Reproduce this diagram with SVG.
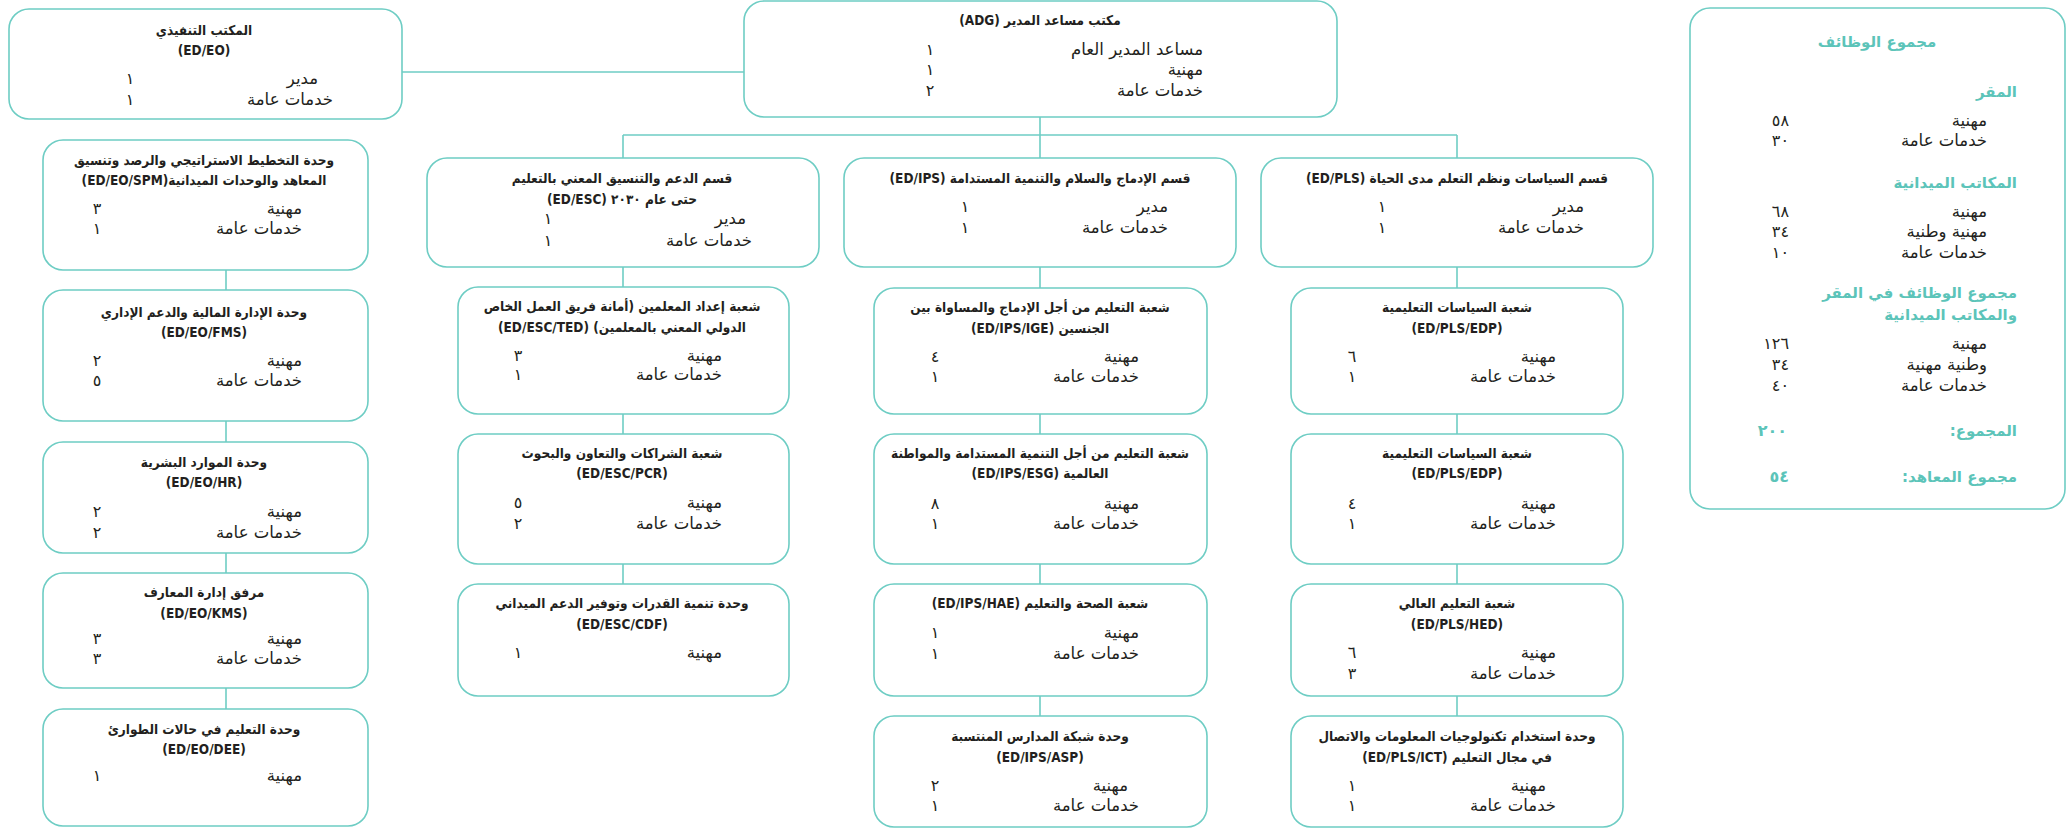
<svg xmlns="http://www.w3.org/2000/svg" width="2069" height="828" viewBox="0 0 2069 828">
<style>
.box{fill:#fff;stroke:#6ecdc4;stroke-width:1.6}
.c line{stroke:#6ecdc4;stroke-width:1.6}
text{font-family:"DejaVu Sans",sans-serif;fill:#231f20}
.t{font-family:"DejaVu Sans Condensed","DejaVu Sans",sans-serif;font-size:13.5px;font-weight:bold;text-anchor:middle;direction:rtl}
.l{font-size:16.5px;direction:rtl;text-anchor:start}
.n{font-size:16px;text-anchor:middle}
.h{font-size:15px;font-weight:bold;fill:#5cc4b9;direction:rtl;text-anchor:start}
.hc{font-size:15px;font-weight:bold;fill:#5cc4b9;text-anchor:middle;direction:rtl}
.nr{font-size:16px;text-anchor:end}
.tn{font-size:16px;font-weight:bold;fill:#5cc4b9;text-anchor:end}
</style>
<rect width="2069" height="828" fill="#fff"/>
<g class="c" id="connectors">
<line x1="402" y1="72" x2="744" y2="72"/>
<line x1="623" y1="135" x2="1457" y2="135"/>
<line x1="1040" y1="117" x2="1040" y2="158"/>
<line x1="623" y1="135" x2="623" y2="158"/>
<line x1="1457" y1="135" x2="1457" y2="158"/>
<line x1="226" y1="270" x2="226" y2="290"/>
<line x1="226" y1="421" x2="226" y2="442"/>
<line x1="226" y1="553" x2="226" y2="573"/>
<line x1="226" y1="688" x2="226" y2="709"/>
<line x1="623" y1="267" x2="623" y2="287"/>
<line x1="623" y1="414" x2="623" y2="434"/>
<line x1="623" y1="564" x2="623" y2="584"/>
<line x1="1040" y1="267" x2="1040" y2="288"/>
<line x1="1040" y1="414" x2="1040" y2="434"/>
<line x1="1040" y1="564" x2="1040" y2="584"/>
<line x1="1040" y1="696" x2="1040" y2="716"/>
<line x1="1457" y1="267" x2="1457" y2="288"/>
<line x1="1457" y1="414" x2="1457" y2="434"/>
<line x1="1457" y1="564" x2="1457" y2="584"/>
<line x1="1457" y1="696" x2="1457" y2="716"/>
</g>

<g id="ed-eo">
<rect class="box" x="9" y="9" width="393" height="110" rx="20"/>
<text class="t" x="204" y="35">المكتب التنفيذي</text>
<text class="t" x="204" y="55">(ED/EO)</text>
<text class="l" x="318" y="84">مدير</text><text class="n" x="130" y="84">١</text>
<text class="l" x="333" y="105">خدمات عامة</text><text class="n" x="130" y="105">١</text>
</g>

<g id="ed-eo-spm">
<rect class="box" x="43" y="140" width="325" height="130" rx="20"/>
<text class="t" x="204" y="165">وحدة التخطيط الاستراتيجي والرصد وتنسيق</text>
<text class="t" x="204" y="185">المعاهد والوحدات الميدانية(ED/EO/SPM)</text>
<text class="l" x="302" y="214">مهنية</text><text class="n" x="97" y="214">٣</text>
<text class="l" x="302" y="234">خدمات عامة</text><text class="n" x="97" y="234">١</text>
</g>

<g id="ed-eo-fms">
<rect class="box" x="43" y="290" width="325" height="131" rx="20"/>
<text class="t" x="204" y="317">وحدة الإدارة المالية والدعم الإداري</text>
<text class="t" x="204" y="337">(ED/EO/FMS)</text>
<text class="l" x="302" y="366">مهنية</text><text class="n" x="97" y="366">٢</text>
<text class="l" x="302" y="386">خدمات عامة</text><text class="n" x="97" y="386">٥</text>
</g>

<g id="ed-eo-hr">
<rect class="box" x="43" y="442" width="325" height="111" rx="20"/>
<text class="t" x="204" y="467">وحدة الموارد البشرية</text>
<text class="t" x="204" y="487">(ED/EO/HR)</text>
<text class="l" x="302" y="517">مهنية</text><text class="n" x="97" y="517">٢</text>
<text class="l" x="302" y="538">خدمات عامة</text><text class="n" x="97" y="538">٢</text>
</g>

<g id="ed-eo-kms">
<rect class="box" x="43" y="573" width="325" height="115" rx="20"/>
<text class="t" x="204" y="597">مرفق إدارة المعارف</text>
<text class="t" x="204" y="618">(ED/EO/KMS)</text>
<text class="l" x="302" y="644">مهنية</text><text class="n" x="97" y="644">٣</text>
<text class="l" x="302" y="664">خدمات عامة</text><text class="n" x="97" y="664">٣</text>
</g>

<g id="ed-eo-dee">
<rect class="box" x="43" y="709" width="325" height="117" rx="20"/>
<text class="t" x="204" y="734">وحدة التعليم في حالات الطوارئ</text>
<text class="t" x="204" y="754">(ED/EO/DEE)</text>
<text class="l" x="302" y="781">مهنية</text><text class="n" x="97" y="781">١</text>
</g>

<g id="adg">
<rect class="box" x="744" y="1" width="593" height="116" rx="20"/>
<text class="t" x="1040" y="25">مكتب مساعد المدير (ADG)</text>
<text class="l" x="1203" y="55">مساعد المدير العام</text><text class="n" x="930" y="55">١</text>
<text class="l" x="1203" y="75">مهنية</text><text class="n" x="930" y="75">١</text>
<text class="l" x="1203" y="96">خدمات عامة</text><text class="n" x="930" y="96">٢</text>
</g>

<g id="ed-esc">
<rect class="box" x="427" y="158" width="392" height="109" rx="20"/>
<text class="t" x="622" y="183">قسم الدعم والتنسيق المعني بالتعليم</text>
<text class="t" x="622" y="204">حتى عام ٢٠٣٠  (ED/ESC)</text>
<text class="l" x="746" y="224">مدير</text><text class="n" x="548" y="224">١</text>
<text class="l" x="752" y="246">خدمات عامة</text><text class="n" x="548" y="246">١</text>
</g>

<g id="ed-esc-ted">
<rect class="box" x="458" y="287" width="331" height="127" rx="20"/>
<text class="t" x="622" y="311">شعبة إعداد المعلمين (أمانة فريق العمل الخاص</text>
<text class="t" x="622" y="332">الدولي المعني بالمعلمين) (ED/ESC/TED)</text>
<text class="l" x="722" y="361">مهنية</text><text class="n" x="518" y="361">٣</text>
<text class="l" x="722" y="380">خدمات عامة</text><text class="n" x="518" y="380">١</text>
</g>

<g id="ed-esc-pcr">
<rect class="box" x="458" y="434" width="331" height="130" rx="20"/>
<text class="t" x="622" y="458">شعبة الشراكات والتعاون والبحوث</text>
<text class="t" x="622" y="478">(ED/ESC/PCR)</text>
<text class="l" x="722" y="508">مهنية</text><text class="n" x="518" y="508">٥</text>
<text class="l" x="722" y="529">خدمات عامة</text><text class="n" x="518" y="529">٢</text>
</g>

<g id="ed-esc-cdf">
<rect class="box" x="458" y="584" width="331" height="112" rx="20"/>
<text class="t" x="622" y="608">وحدة تنمية القدرات وتوفير الدعم الميداني</text>
<text class="t" x="622" y="629">(ED/ESC/CDF)</text>
<text class="l" x="722" y="658">مهنية</text><text class="n" x="518" y="658">١</text>
</g>

<g id="ed-ips">
<rect class="box" x="844" y="158" width="392" height="109" rx="20"/>
<text class="t" x="1040" y="183">قسم الإدماج والسلام والتنمية المستدامة (ED/IPS)</text>
<text class="l" x="1168" y="212">مدير</text><text class="n" x="965" y="212">١</text>
<text class="l" x="1168" y="233">خدمات عامة</text><text class="n" x="965" y="233">١</text>
</g>

<g id="ed-ips-ige">
<rect class="box" x="874" y="288" width="333" height="126" rx="20"/>
<text class="t" x="1040" y="312">شعبة التعليم من أجل الإدماج والمساواة بين</text>
<text class="t" x="1040" y="333">الجنسين  (ED/IPS/IGE)</text>
<text class="l" x="1139" y="362">مهنية</text><text class="n" x="935" y="362">٤</text>
<text class="l" x="1139" y="382">خدمات عامة</text><text class="n" x="935" y="382">١</text>
</g>

<g id="ed-ips-esg">
<rect class="box" x="874" y="434" width="333" height="130" rx="20"/>
<text class="t" x="1040" y="458">شعبة التعليم من أجل التنمية المستدامة والمواطنة</text>
<text class="t" x="1040" y="478">العالمية (ED/IPS/ESG)</text>
<text class="l" x="1139" y="509">مهنية</text><text class="n" x="935" y="509">٨</text>
<text class="l" x="1139" y="529">خدمات عامة</text><text class="n" x="935" y="529">١</text>
</g>

<g id="ed-ips-hae">
<rect class="box" x="874" y="584" width="333" height="112" rx="20"/>
<text class="t" x="1040" y="608">شعبة الصحة والتعليم (ED/IPS/HAE)</text>
<text class="l" x="1139" y="638">مهنية</text><text class="n" x="935" y="638">١</text>
<text class="l" x="1139" y="659">خدمات عامة</text><text class="n" x="935" y="659">١</text>
</g>

<g id="ed-ips-asp">
<rect class="box" x="874" y="716" width="333" height="111" rx="20"/>
<text class="t" x="1040" y="741">وحدة شبكة المدارس المنتسبة</text>
<text class="t" x="1040" y="762">(ED/IPS/ASP)</text>
<text class="l" x="1128" y="791">مهنية</text><text class="n" x="935" y="791">٢</text>
<text class="l" x="1139" y="811">خدمات عامة</text><text class="n" x="935" y="811">١</text>
</g>

<g id="ed-pls">
<rect class="box" x="1261" y="158" width="392" height="109" rx="20"/>
<text class="t" x="1457" y="183">قسم السياسات ونظم التعلم مدى الحياة  (ED/PLS)</text>
<text class="l" x="1584" y="212">مدير</text><text class="n" x="1382" y="212">١</text>
<text class="l" x="1584" y="233">خدمات عامة</text><text class="n" x="1382" y="233">١</text>
</g>

<g id="ed-pls-edp-1">
<rect class="box" x="1291" y="288" width="332" height="126" rx="20"/>
<text class="t" x="1457" y="312">شعبة السياسات التعليمية</text>
<text class="t" x="1457" y="333">(ED/PLS/EDP)</text>
<text class="l" x="1556" y="362">مهنية</text><text class="n" x="1352" y="362">٦</text>
<text class="l" x="1556" y="382">خدمات عامة</text><text class="n" x="1352" y="382">١</text>
</g>

<g id="ed-pls-edp-2">
<rect class="box" x="1291" y="434" width="332" height="130" rx="20"/>
<text class="t" x="1457" y="458">شعبة السياسات التعليمية</text>
<text class="t" x="1457" y="478">(ED/PLS/EDP)</text>
<text class="l" x="1556" y="509">مهنية</text><text class="n" x="1352" y="509">٤</text>
<text class="l" x="1556" y="529">خدمات عامة</text><text class="n" x="1352" y="529">١</text>
</g>

<g id="ed-pls-hed">
<rect class="box" x="1291" y="584" width="332" height="112" rx="20"/>
<text class="t" x="1457" y="608">شعبة التعليم العالي</text>
<text class="t" x="1457" y="629">(ED/PLS/HED)</text>
<text class="l" x="1556" y="658">مهنية</text><text class="n" x="1352" y="658">٦</text>
<text class="l" x="1556" y="679">خدمات عامة</text><text class="n" x="1352" y="679">٣</text>
</g>

<g id="ed-pls-ict">
<rect class="box" x="1291" y="716" width="332" height="111" rx="20"/>
<text class="t" x="1457" y="741">وحدة استخدام تكنولوجيات المعلومات والاتصال</text>
<text class="t" x="1457" y="762">في مجال التعليم  (ED/PLS/ICT)</text>
<text class="l" x="1546" y="791">مهنية</text><text class="n" x="1352" y="791">١</text>
<text class="l" x="1556" y="811">خدمات عامة</text><text class="n" x="1352" y="811">١</text>
</g>

<g id="summary">
<rect class="box" x="1690" y="8" width="375" height="501" rx="20"/>
<text class="hc" x="1877" y="47">مجموع الوظائف</text>
<text class="h" x="2017" y="97">المقر</text>
<text class="l" x="1987" y="126">مهنية</text><text class="nr" x="1789" y="126">٥٨</text>
<text class="l" x="1987" y="146">خدمات عامة</text><text class="nr" x="1789" y="146">٣٠</text>
<text class="h" x="2017" y="188">المكاتب الميدانية</text>
<text class="l" x="1987" y="217">مهنية</text><text class="nr" x="1789" y="217">٦٨</text>
<text class="l" x="1987" y="237">مهنية وطنية</text><text class="nr" x="1789" y="237">٣٤</text>
<text class="l" x="1987" y="258">خدمات عامة</text><text class="nr" x="1789" y="258">١٠</text>
<text class="h" x="2017" y="298">مجموع الوظائف في المقر</text>
<text class="h" x="2017" y="320">والمكاتب الميدانية</text>
<text class="l" x="1987" y="349">مهنية</text><text class="nr" x="1789" y="349">١٢٦</text>
<text class="l" x="1987" y="370">وطنية مهنية</text><text class="nr" x="1789" y="370">٣٤</text>
<text class="l" x="1987" y="391">خدمات عامة</text><text class="nr" x="1789" y="391">٤٠</text>
<text class="h" x="2017" y="436">المجموع:</text><text class="tn" x="1787" y="436">٢٠٠</text>
<text class="h" x="2017" y="482">مجموع المعاهد:</text><text class="tn" x="1789" y="482">٥٤</text>
</g>
</svg>
